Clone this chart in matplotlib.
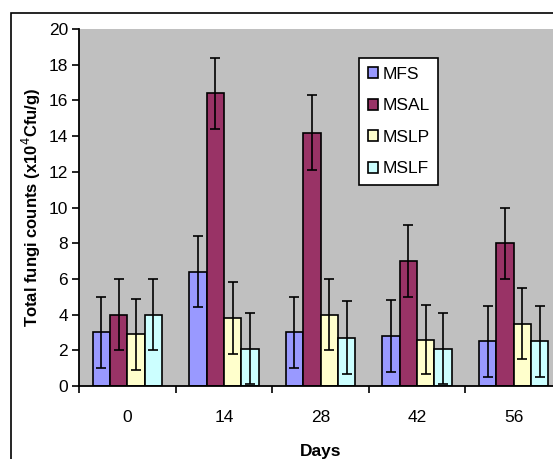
import matplotlib
matplotlib.use("Agg")
import matplotlib.pyplot as plt
import numpy as np
from matplotlib.patches import Rectangle

plt.rcParams['font.family'] = ['Liberation Sans', 'DejaVu Sans']

days = ["0", "14", "28", "42", "56"]
series = ["MFS", "MSAL", "MSLP", "MSLF"]
mfs = [3.0, 6.4, 3.0, 2.8, 2.5]
msal = [4.0, 16.4, 14.2, 7.0, 8.0]
mslp = [2.9, 3.8, 4.0, 2.6, 3.5]
mslf = [4.0, 2.1, 2.7, 2.1, 2.5]
err_mfs = [2.0, 2.0, 2.0, 2.0, 2.0]
err_msal = [2.0, 2.0, 2.1, 2.0, 2.0]
err_mslp = [2.0, 2.0, 2.0, 1.95, 2.0]
err_mslf = [2.0, 2.0, 2.05, 2.0, 2.0]

colors = ['#9999FF', '#993366', '#FFFFCC', '#CCFFFF']

fig = plt.figure(figsize=(5.53, 4.59), dpi=100)
ax = fig.add_axes([79/553, 1-386/459, 483/553, 357/459])
ax.set_facecolor('#C0C0C0')

x = np.arange(len(days))
w = 0.18
vals = [mfs, msal, mslp, mslf]
errs = [err_mfs, err_msal, err_mslp, err_mslf]
for i in range(4):
    pos = x + (i - 1.5) * w
    ax.bar(pos, vals[i], w, color=colors[i], edgecolor='black', linewidth=1.2,
           label=series[i], zorder=2)
    ax.errorbar(pos, vals[i], yerr=errs[i], fmt='none', ecolor='black',
                elinewidth=1.2, capsize=3.6, capthick=1.2, zorder=3)

ax.set_xlim(-0.5, len(days) - 0.5)
ax.set_ylim(0, 20)
ax.set_yticks(range(0, 21, 2))
ax.tick_params(axis='y', labelsize=12.5, length=5, direction='out', width=1.2, pad=3)
ax.set_xticks(np.arange(len(days) + 1) - 0.5)
ax.set_xticklabels([])
ax.set_xticks(x, minor=True)
ax.set_xticklabels(days, minor=True, fontsize=12.5)
ax.tick_params(axis='x', which='major', length=5, width=1.2)
ax.tick_params(axis='x', which='minor', length=0, pad=17)

for s in ['top', 'right']:
    ax.spines[s].set_visible(False)
ax.spines['left'].set_linewidth(1.3)
ax.spines['bottom'].set_linewidth(1.3)

ax.set_ylabel('Total fungi counts (x10$^4$Cfu/g)', fontsize=12, fontweight='bold', labelpad=4)
ax.set_xlabel('Days', fontsize=12.5, fontweight='bold', labelpad=14)

leg = ax.legend(loc='upper left', bbox_to_anchor=((359-79)/483, 1-(58-29)/357),
                fontsize=12.5, frameon=True, fancybox=False, edgecolor='black',
                framealpha=1, handlelength=0.6, handleheight=0.6,
                handletextpad=0.25, labelspacing=0.95, borderpad=0.5, borderaxespad=0)
leg.get_frame().set_linewidth(1.2)

fig.add_artist(Rectangle((11/553, -0.1), 2, 1 - 13/459 + 0.1, transform=fig.transFigure,
                         fill=False, edgecolor='black', linewidth=1.2))

fig.savefig('out.png', dpi=100)
